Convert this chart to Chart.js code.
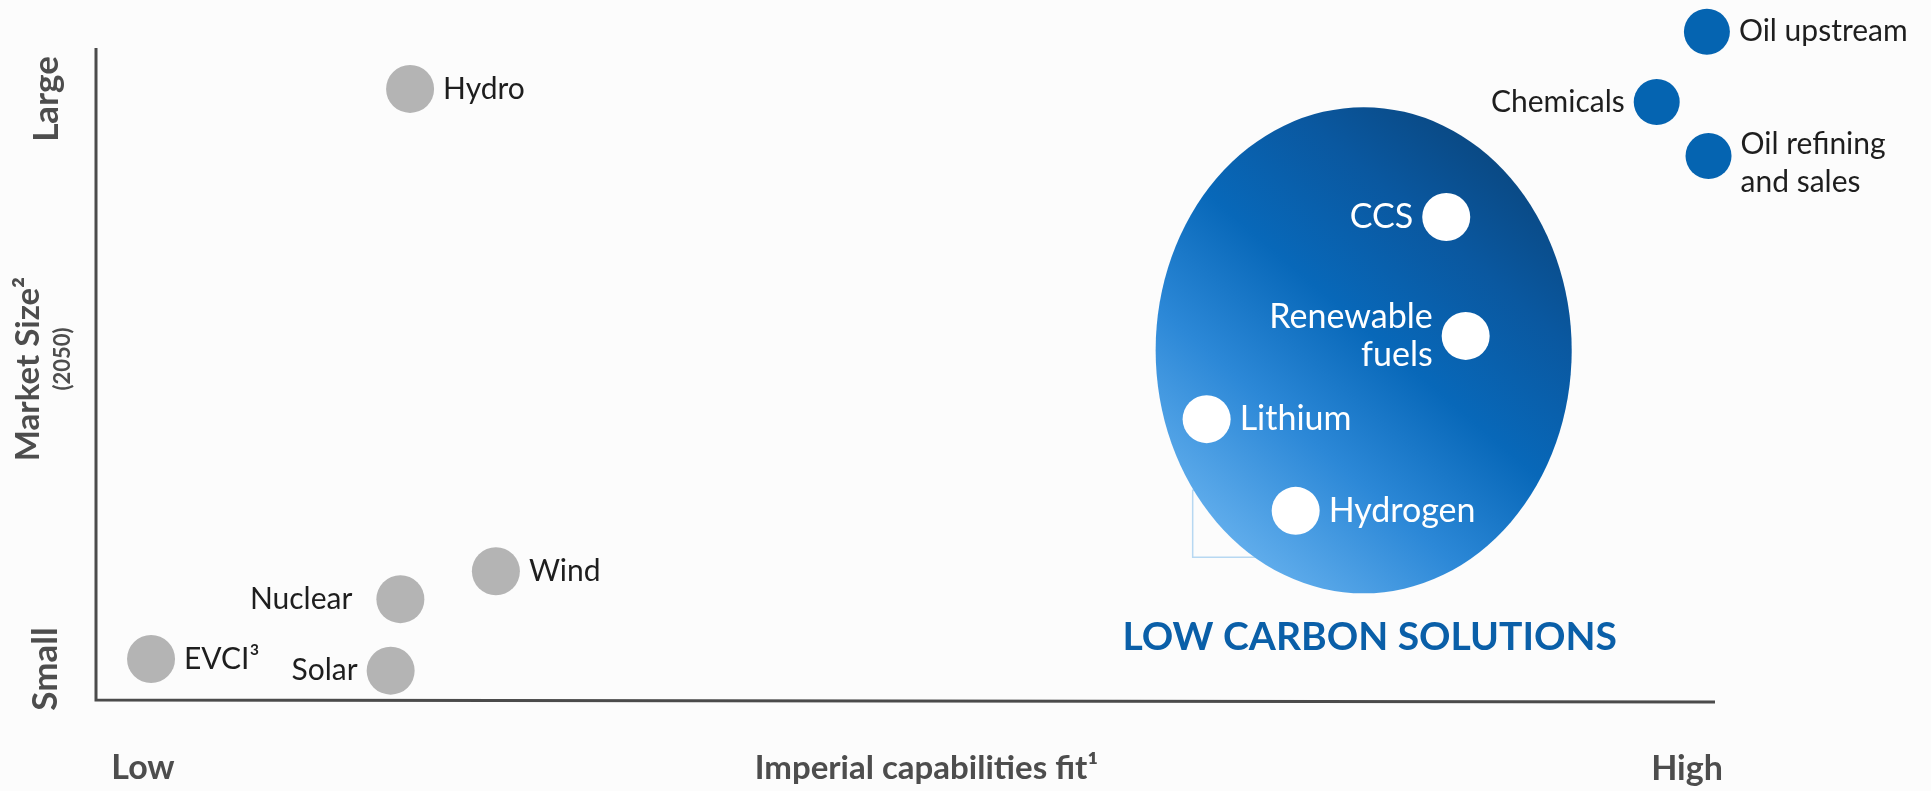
<!DOCTYPE html>
<html>
<head>
<meta charset="utf-8">
<script src="https://cdn.jsdelivr.net/npm/chart.js@4.4.1/dist/chart.umd.min.js"></script>
<style>
  html, body { margin: 0; padding: 0; background: #fcfcfc; }
  #wrap { width: 1931px; height: 791px; position: relative; }
</style>
</head>
<body>
<div id="wrap"><canvas id="chart"></canvas></div>
<script>
// x = Imperial capabilities fit (0 low .. 10 high), y = market size in 2050 (0 small .. 10 large)
const otherNames = ["Hydro", "Wind", "Nuclear", "Solar", "EVCI³"];
const otherFit = [1.94, 2.47, 1.88, 1.82, 0.34];
const otherSize = [9.37, 1.95, 1.52, 0.42, 0.60];
const otherSides = ["right", "right", "left", "left", "right"];

const coreNames = ["Oil upstream", "Chemicals", "Oil refining\nand sales"];
const coreFit = [9.95, 9.64, 9.96];
const coreSize = [10.25, 9.17, 8.34];
const coreSides = ["right", "left", "right"];

const lowCarbonNames = ["CCS", "Renewable\nfuels", "Lithium", "Hydrogen"];
const lowCarbonFit = [8.34, 8.46, 6.86, 7.41];
const lowCarbonSize = [7.40, 5.57, 4.29, 2.88];
const lowCarbonSides = ["left", "left", "right", "right"];

const xEnds = ["Low", "High"];
const yEnds = ["Small", "Large"];

// low carbon bubble, in data units
const zoneCenter = [7.83, 5.35];
const zoneSpan = [1.285, 3.74];

const FONT = "Lato, 'Open Sans', sans-serif";

function toPoints(xs, ys, names, sides) {
  return xs.map((x, i) => ({ x: x, y: ys[i], name: names[i], side: sides[i] }));
}

const zonePlugin = {
  id: "zone",
  beforeDatasetsDraw(chart) {
    const { ctx, scales: { x, y } } = chart;
    const cx = x.getPixelForValue(zoneCenter[0]);
    const cy = y.getPixelForValue(zoneCenter[1]);
    const rx = x.getPixelForValue(zoneCenter[0] + zoneSpan[0]) - cx;
    const ry = cy - y.getPixelForValue(zoneCenter[1] + zoneSpan[1]);
    ctx.save();
    // faint leftover box behind the bubble
    ctx.strokeStyle = "#b7d8f2";
    ctx.lineWidth = 1.5;
    ctx.strokeRect(cx - 171, cy + 140, 80, 67);
    const g = ctx.createLinearGradient(cx - rx * 0.8, cy + ry * 0.75, cx + rx * 0.7, cy - ry * 0.75);
    g.addColorStop(0, "#66b1ee");
    g.addColorStop(0.3, "#2c88d7");
    g.addColorStop(0.55, "#0868b9");
    g.addColorStop(0.8, "#0a58a0");
    g.addColorStop(1, "#0a4984");
    ctx.fillStyle = g;
    ctx.beginPath();
    ctx.ellipse(cx, cy, rx, ry, 0, 0, Math.PI * 2);
    ctx.fill();
    ctx.fillStyle = "#0a5fa8";
    ctx.font = "bold 39px " + FONT;
    ctx.textAlign = "center";
    ctx.textBaseline = "middle";
    ctx.fillText("LOW CARBON SOLUTIONS", cx + 6, cy + ry + 44);
    ctx.restore();
  }
};

const labelPlugin = {
  id: "labels",
  afterDatasetsDraw(chart) {
    const { ctx, chartArea: a } = chart;
    ctx.save();
    ctx.textBaseline = "middle";
    chart.data.datasets.forEach((ds, di) => {
      const meta = chart.getDatasetMeta(di);
      ctx.font = ds.labelSize + "px " + FONT;
      meta.data.forEach((el, i) => {
        const p = ds.data[i];
        const lines = p.name.split("\n");
        const gap = p.name === "Nuclear" ? 24 : 9;
        const r = ds.pointRadius;
        ctx.fillStyle = ds.labelColor;
        ctx.textAlign = p.side === "right" ? "left" : "right";
        const tx = p.side === "right" ? el.x + r + gap : el.x - r - gap;
        const lh = 38;
        let ty = el.y - (lines.length - 1) * lh / 2;
        if (p.name.startsWith("Oil refining")) ty += 7;
        lines.forEach((ln, k) => ctx.fillText(ln, tx, ty + k * lh));
      });
    });

    // axes
    ctx.strokeStyle = "#4b4b4b";
    ctx.lineWidth = 3;
    ctx.beginPath();
    ctx.moveTo(a.left, a.top);
    ctx.lineTo(a.left, a.bottom + 2);
    ctx.lineTo(a.right, a.bottom + 4);
    ctx.stroke();

    ctx.fillStyle = "#4d4d4d";
    ctx.font = "bold 34px " + FONT;
    ctx.textAlign = "center";
    ctx.textBaseline = "middle";
    ctx.fillText(xEnds[0], a.left + 47, a.bottom + 70);
    ctx.fillText(xEnds[1], a.right - 28, a.bottom + 71);
    ctx.font = "bold 33px " + FONT;
    ctx.fillText("Imperial capabilities fit¹", (a.left + a.right) / 2 + 21, a.bottom + 70);

    const rot = (txt, px, py, font) => {
      ctx.save();
      ctx.translate(px, py);
      ctx.rotate(-Math.PI / 2);
      ctx.font = font;
      ctx.fillText(txt, 0, 0);
      ctx.restore();
    };
    rot(yEnds[1], a.left - 49, a.top + 51, "bold 35px " + FONT);
    rot(yEnds[0], a.left - 50, a.bottom - 29, "bold 35px " + FONT);
    rot("Market Size²", a.left - 68, a.top + 321, "bold 33px " + FONT);
    rot("(2050)", a.left - 33, a.top + 311, "bold 22px " + FONT);
    ctx.restore();
  }
};

new Chart(document.getElementById("chart"), {
  type: "scatter",
  data: {
    datasets: [
      {
        label: "Other",
        data: toPoints(otherFit, otherSize, otherNames, otherSides),
        pointRadius: 24,
        pointBackgroundColor: "#b4b4b4",
        pointBorderWidth: 0,
        labelColor: "#1e1e1e",
        labelSize: 30
      },
      {
        label: "Core",
        data: toPoints(coreFit, coreSize, coreNames, coreSides),
        pointRadius: 23,
        pointBackgroundColor: "#0564b1",
        pointBorderWidth: 0,
        labelColor: "#1e1e1e",
        labelSize: 30
      },
      {
        label: "Low carbon",
        data: toPoints(lowCarbonFit, lowCarbonSize, lowCarbonNames, lowCarbonSides),
        pointRadius: 24,
        pointBackgroundColor: "#ffffff",
        pointBorderWidth: 0,
        labelColor: "#ffffff",
        labelSize: 34
      }
    ]
  },
  options: {
    responsive: true,
    maintainAspectRatio: false,
    animation: false,
    clip: false,
    layout: { padding: { left: 96, right: 216, top: 48, bottom: 93 } },
    plugins: { legend: { display: false }, tooltip: { enabled: false } },
    scales: {
      x: { type: "linear", min: 0, max: 10, display: false },
      y: { type: "linear", min: 0, max: 10, display: false }
    }
  },
  plugins: [zonePlugin, labelPlugin]
});
</script>
</body>
</html>
